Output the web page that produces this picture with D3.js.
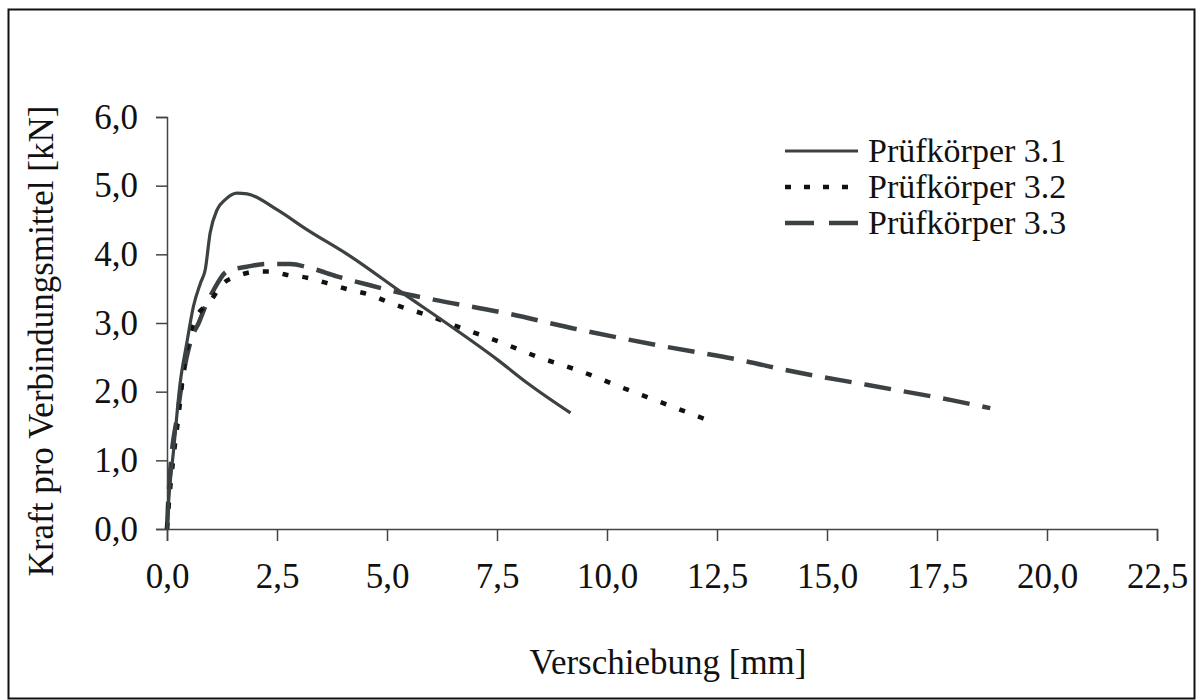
<!DOCTYPE html>
<html><head><meta charset="utf-8">
<script src="https://cdn.jsdelivr.net/npm/d3@7"></script>
<style>
html,body{margin:0;padding:0;background:#fff;}
svg{display:block;}
text{font-family:"Liberation Serif","Times New Roman",serif;fill:#111;}
</style></head>
<body><svg id="c" width="1197" height="700"></svg>
<script>
const xTicks = [0,2.5,5,7.5,10,12.5,15,17.5,20,22.5];
const yTicks = [0,1,2,3,4,5,6];
const xTitle = "Verschiebung [mm]";
const yTitle = "Kraft pro Verbindungsmittel [kN]";
const seriesNames = ["Prüfkörper 3.1","Prüfkörper 3.2","Prüfkörper 3.3"];

const s31x = [0,0.04,0.15,0.30,0.45,0.60,0.76,0.87,0.98,1.14,1.33,1.59,1.82,2.5,3.18,4.17,5.30,6.5,7.5,8.18,9.17];
const s31y = [0,0.43,1.15,2.13,2.71,3.24,3.58,3.78,4.31,4.65,4.80,4.89,4.88,4.65,4.36,3.97,3.46,2.93,2.47,2.13,1.69];

const s32x = [0,0.05,0.15,0.26,0.38,0.53,0.64,0.98,1.25,1.59,2.05,2.35,2.73,3.18,3.64,4.17,4.62,5.08,5.98,6.59,7.54,8.41,9.39,10.38,11.29,12.27];
const s32y = [0,0.43,1.06,1.64,2.32,2.85,3.05,3.31,3.56,3.68,3.75,3.75,3.70,3.66,3.58,3.48,3.41,3.29,3.10,2.95,2.73,2.51,2.30,2.05,1.83,1.59];

const s33x = [0,0.02,0.08,0.23,0.34,0.45,0.57,0.72,0.87,1.06,1.36,1.82,2.27,2.80,3.26,3.86,4.55,5.30,6.06,7.65,9.39,11.29,13.18,14.02,15.9,17.8,18.71];
const s33y = [0,0.3,0.91,1.64,2.13,2.51,2.80,3.00,3.24,3.48,3.75,3.82,3.86,3.86,3.80,3.68,3.56,3.44,3.34,3.15,2.90,2.66,2.44,2.32,2.10,1.88,1.76];

const svg = d3.select("#c");
const fmt = d => d3.format(".1f")(d).replace(".", ",");

svg.append("rect").attr("x",8.5).attr("y",9.5).attr("width",1186).attr("height",689)
  .attr("fill","none").attr("stroke","#111").attr("stroke-width",2);

const x = d3.scaleLinear().domain([0,22.5]).range([167,1157]);
const y = d3.scaleLinear().domain([0,6]).range([529,117]);

const ax = svg.append("g").attr("transform","translate(0,529)")
  .call(d3.axisBottom(x).tickValues(xTicks).tickFormat(fmt).tickSize(12).tickPadding(22));
const ay = svg.append("g").attr("transform","translate(167,0)")
  .call(d3.axisLeft(y).tickValues(yTicks).tickFormat(fmt).tickSize(11).tickPadding(18));
[ax,ay].forEach(g=>{
  g.select(".domain").attr("stroke","#444").attr("stroke-width",1.5);
  g.selectAll(".tick line").attr("stroke","#444").attr("stroke-width",1.5);
  g.selectAll(".tick text").attr("font-size",35).attr("fill","#111")
    .attr("font-family",'"Liberation Serif",serif');
});

svg.append("text").attr("x",668).attr("y",674).attr("text-anchor","middle")
  .attr("font-size",35).text(xTitle);
svg.append("text").attr("transform","translate(53,341) rotate(-90)").attr("text-anchor","middle")
  .attr("font-size",35).text(yTitle);

const styles = [
  {stroke:"#3c4144", w:3.2, dash:null},
  {stroke:"#111", w:4.5, dash:"6,14"},
  {stroke:"#3c4144", w:4.5, dash:"27,13"}
];
const data = [
  s31x.map((v,i)=>[v,s31y[i]]),
  s32x.map((v,i)=>[v,s32y[i]]),
  s33x.map((v,i)=>[v,s33y[i]])
];
const line = d3.line().x(d=>x(d[0])).y(d=>y(d[1])).curve(d3.curveMonotoneX);
const drawOrder = [2,1,0];
drawOrder.forEach(i=>{
  svg.append("path").attr("d",line(data[i])).attr("fill","none")
    .attr("stroke",styles[i].stroke).attr("stroke-width",styles[i].w)
    .attr("stroke-dasharray",styles[i].dash);
});

const leg = svg.append("g");
seriesNames.forEach((n,i)=>{
  const yy = 151 + i*36;
  leg.append("line").attr("x1",785).attr("x2",858).attr("y1",yy).attr("y2",yy)
    .attr("stroke",styles[i].stroke).attr("stroke-width",styles[i].w)
    .attr("stroke-dasharray", i===1 ? "6,13" : (i===2 ? "29,15" : null));
  leg.append("text").attr("x",868).attr("y",yy+11).attr("font-size",34).text(n);
});
</script></body></html>
